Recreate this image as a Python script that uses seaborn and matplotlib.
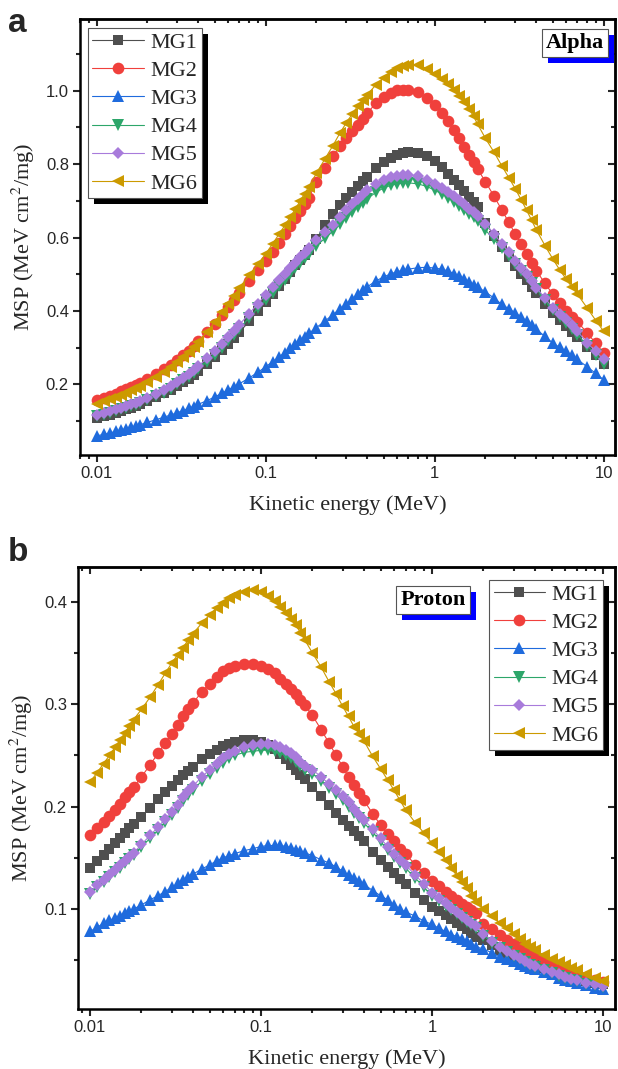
import numpy as np
import pandas as pd
import matplotlib
matplotlib.use("Agg")
import matplotlib.pyplot as plt
import matplotlib.ticker as mticker
from matplotlib.patches import Rectangle
import seaborn as sns

# kinetic energy grid (MeV)
energy = [0.010, 0.011, 0.012, 0.013, 0.014, 0.015, 0.016, 0.017, 0.018,
          0.020, 0.0225, 0.025, 0.0275, 0.030, 0.0325, 0.035, 0.0375, 0.040,
          0.045, 0.050, 0.055, 0.060, 0.065, 0.070, 0.080, 0.090,
          0.100, 0.110, 0.120, 0.130, 0.140, 0.150, 0.160, 0.170, 0.180,
          0.200, 0.225, 0.250, 0.275, 0.300, 0.325, 0.350, 0.375, 0.400,
          0.450, 0.500, 0.550, 0.600, 0.650, 0.700, 0.800, 0.900,
          1.000, 1.100, 1.200, 1.300, 1.400, 1.500, 1.600, 1.700, 1.800,
          2.000, 2.250, 2.500, 2.750, 3.000, 3.250, 3.500, 3.750, 4.000,
          4.500, 5.000, 5.500, 6.000, 6.500, 7.000, 8.000, 9.000, 10.00]

labels = ["MG1", "MG2", "MG3", "MG4", "MG5", "MG6"]

# alpha MSP (MeV cm2/mg)
alpha_mg1 = [0.108, 0.113, 0.118, 0.123, 0.128, 0.133, 0.137, 0.142, 0.146,
             0.155, 0.165, 0.176, 0.186, 0.196, 0.206, 0.216, 0.226, 0.236,
             0.256, 0.276, 0.294, 0.311, 0.327, 0.342, 0.372, 0.400,
             0.425, 0.447, 0.468, 0.488, 0.507, 0.524, 0.538, 0.553, 0.567,
             0.597, 0.633, 0.665, 0.688, 0.707, 0.724, 0.740, 0.753, 0.765,
             0.788, 0.806, 0.817, 0.825, 0.830, 0.832, 0.830, 0.821,
             0.808, 0.791, 0.774, 0.758, 0.742, 0.726, 0.710, 0.696, 0.683,
             0.640, 0.605, 0.573, 0.546, 0.522, 0.502, 0.484, 0.466, 0.449,
             0.420, 0.395, 0.376, 0.359, 0.344, 0.330, 0.302, 0.279, 0.257]
alpha_mg2 = [0.157, 0.163, 0.169, 0.175, 0.181, 0.187, 0.193, 0.199, 0.204,
             0.215, 0.228, 0.241, 0.254, 0.266, 0.279, 0.292, 0.305, 0.318,
             0.342, 0.366, 0.389, 0.410, 0.430, 0.449, 0.482, 0.511,
             0.537, 0.562, 0.586, 0.609, 0.631, 0.652, 0.672, 0.691, 0.709,
             0.750, 0.789, 0.822, 0.848, 0.870, 0.890, 0.907, 0.924, 0.939,
             0.966, 0.983, 0.994, 1.001, 1.003, 1.003, 0.995, 0.980,
             0.962, 0.940, 0.917, 0.893, 0.870, 0.847, 0.825, 0.805, 0.786,
             0.752, 0.712, 0.675, 0.641, 0.610, 0.582, 0.556, 0.532, 0.510,
             0.475, 0.446, 0.421, 0.400, 0.385, 0.371, 0.340, 0.312, 0.286]
alpha_mg3 = [0.060, 0.064, 0.068, 0.072, 0.076, 0.080, 0.083, 0.087, 0.090,
             0.097, 0.104, 0.111, 0.117, 0.123, 0.129, 0.135, 0.140, 0.146,
             0.156, 0.166, 0.176, 0.185, 0.194, 0.202, 0.218, 0.233,
             0.248, 0.262, 0.275, 0.287, 0.299, 0.310, 0.320, 0.330, 0.339,
             0.355, 0.373, 0.390, 0.406, 0.420, 0.433, 0.445, 0.456, 0.466,
             0.482, 0.493, 0.501, 0.507, 0.511, 0.514, 0.518, 0.519,
             0.517, 0.514, 0.509, 0.502, 0.494, 0.486, 0.478, 0.471, 0.465,
             0.452, 0.435, 0.418, 0.406, 0.395, 0.384, 0.373, 0.361, 0.350,
             0.331, 0.313, 0.301, 0.290, 0.279, 0.268, 0.248, 0.230, 0.213]
alpha_mg4 = [0.113, 0.118, 0.123, 0.127, 0.132, 0.136, 0.141, 0.145, 0.149,
             0.158, 0.168, 0.178, 0.189, 0.200, 0.211, 0.221, 0.232, 0.242,
             0.262, 0.281, 0.300, 0.318, 0.335, 0.352, 0.382, 0.408,
             0.431, 0.450, 0.468, 0.485, 0.501, 0.516, 0.530, 0.543, 0.555,
             0.578, 0.598, 0.617, 0.636, 0.653, 0.669, 0.683, 0.695, 0.706,
             0.723, 0.735, 0.742, 0.746, 0.748, 0.749, 0.746, 0.739,
             0.729, 0.719, 0.709, 0.698, 0.687, 0.676, 0.665, 0.655, 0.645,
             0.620, 0.595, 0.572, 0.550, 0.529, 0.510, 0.493, 0.476, 0.460,
             0.430, 0.402, 0.384, 0.367, 0.351, 0.336, 0.306, 0.280, 0.255]
alpha_mg5 = [0.117, 0.122, 0.127, 0.132, 0.137, 0.141, 0.146, 0.150, 0.154,
             0.163, 0.174, 0.185, 0.196, 0.207, 0.218, 0.229, 0.240, 0.250,
             0.271, 0.291, 0.310, 0.328, 0.346, 0.363, 0.393, 0.420,
             0.444, 0.465, 0.484, 0.501, 0.517, 0.532, 0.546, 0.559, 0.571,
             0.592, 0.614, 0.635, 0.655, 0.674, 0.691, 0.706, 0.718, 0.729,
             0.747, 0.758, 0.764, 0.767, 0.769, 0.770, 0.767, 0.758,
             0.747, 0.736, 0.724, 0.712, 0.701, 0.690, 0.679, 0.669, 0.660,
             0.637, 0.610, 0.583, 0.560, 0.537, 0.518, 0.500, 0.482, 0.464,
             0.435, 0.409, 0.392, 0.377, 0.361, 0.345, 0.313, 0.290, 0.268]
alpha_mg6 = [0.148, 0.154, 0.160, 0.166, 0.172, 0.178, 0.184, 0.190, 0.196,
             0.207, 0.221, 0.234, 0.247, 0.260, 0.274, 0.288, 0.302, 0.316,
             0.343, 0.370, 0.396, 0.420, 0.442, 0.463, 0.498, 0.527,
             0.555, 0.583, 0.609, 0.633, 0.656, 0.678, 0.699, 0.719, 0.738,
             0.775, 0.815, 0.850, 0.884, 0.912, 0.936, 0.957, 0.974, 0.989,
             1.016, 1.035, 1.050, 1.061, 1.068, 1.071, 1.070, 1.060,
             1.046, 1.032, 1.017, 1.001, 0.985, 0.968, 0.951, 0.930, 0.908,
             0.870, 0.832, 0.795, 0.763, 0.733, 0.703, 0.675, 0.647, 0.621,
             0.578, 0.542, 0.512, 0.487, 0.465, 0.446, 0.408, 0.374, 0.345]

# proton MSP (MeV cm2/mg)
proton_mg1 = [0.140, 0.147, 0.153, 0.159, 0.164, 0.169, 0.174, 0.179, 0.183,
              0.190, 0.199, 0.207, 0.214, 0.220, 0.226, 0.231, 0.235, 0.239,
              0.246, 0.251, 0.255, 0.259, 0.261, 0.263, 0.265, 0.265,
              0.263, 0.260, 0.256, 0.251, 0.246, 0.241, 0.236, 0.231, 0.227,
              0.219, 0.210, 0.202, 0.194, 0.187, 0.181, 0.176, 0.171, 0.166,
              0.156, 0.148, 0.141, 0.135, 0.129, 0.124, 0.116, 0.109,
              0.102, 0.098, 0.094, 0.090, 0.086, 0.083, 0.080, 0.077, 0.073,
              0.070, 0.065, 0.060, 0.056, 0.053, 0.051, 0.0485, 0.047, 0.045,
              0.042, 0.039, 0.037, 0.035, 0.0335, 0.032, 0.030, 0.028, 0.027]
proton_mg2 = [0.172, 0.179, 0.185, 0.191, 0.197, 0.203, 0.209, 0.214, 0.219,
              0.229, 0.241, 0.252, 0.262, 0.271, 0.280, 0.288, 0.295, 0.301,
              0.312, 0.320, 0.327, 0.332, 0.335, 0.337, 0.339, 0.339,
              0.337, 0.334, 0.330, 0.325, 0.320, 0.315, 0.310, 0.304, 0.299,
              0.289, 0.275, 0.262, 0.250, 0.239, 0.229, 0.221, 0.213, 0.206,
              0.193, 0.182, 0.173, 0.166, 0.159, 0.154, 0.143, 0.135,
              0.127, 0.122, 0.117, 0.113, 0.109, 0.105, 0.102, 0.099, 0.096,
              0.085, 0.080, 0.075, 0.070, 0.066, 0.063, 0.060, 0.057, 0.055,
              0.051, 0.047, 0.044, 0.041, 0.039, 0.037, 0.034, 0.031, 0.029]
proton_mg3 = [0.078, 0.082, 0.086, 0.089, 0.091, 0.093, 0.096, 0.098, 0.100,
              0.104, 0.109, 0.113, 0.117, 0.121, 0.125, 0.128, 0.131, 0.134,
              0.139, 0.143, 0.147, 0.150, 0.152, 0.154, 0.157, 0.159,
              0.161, 0.162, 0.162, 0.162, 0.161, 0.160, 0.158, 0.157, 0.155,
              0.152, 0.148, 0.145, 0.141, 0.137, 0.133, 0.130, 0.127, 0.124,
              0.118, 0.113, 0.109, 0.104, 0.100, 0.097, 0.093, 0.088,
              0.085, 0.081, 0.078, 0.075, 0.073, 0.071, 0.069, 0.066, 0.063,
              0.061, 0.057, 0.053, 0.051, 0.049, 0.046, 0.044, 0.042, 0.041,
              0.038, 0.036, 0.033, 0.031, 0.030, 0.028, 0.026, 0.023, 0.022]
proton_mg4 = [0.115, 0.121, 0.126, 0.131, 0.136, 0.140, 0.145, 0.149, 0.153,
              0.161, 0.169, 0.177, 0.185, 0.192, 0.199, 0.205, 0.211, 0.216,
              0.225, 0.232, 0.238, 0.243, 0.247, 0.250, 0.253, 0.254,
              0.255, 0.255, 0.254, 0.252, 0.250, 0.247, 0.244, 0.240, 0.236,
              0.232, 0.225, 0.218, 0.212, 0.206, 0.200, 0.194, 0.189, 0.184,
              0.175, 0.166, 0.158, 0.151, 0.145, 0.140, 0.130, 0.121,
              0.113, 0.108, 0.103, 0.099, 0.095, 0.091, 0.087, 0.084, 0.081,
              0.074, 0.067, 0.062, 0.058, 0.054, 0.051, 0.048, 0.045, 0.043,
              0.040, 0.037, 0.035, 0.033, 0.031, 0.030, 0.027, 0.026, 0.024]
proton_mg5 = [0.117, 0.123, 0.128, 0.133, 0.138, 0.143, 0.147, 0.151, 0.155,
              0.163, 0.172, 0.180, 0.188, 0.195, 0.202, 0.209, 0.215, 0.220,
              0.229, 0.236, 0.242, 0.247, 0.251, 0.254, 0.258, 0.260,
              0.261, 0.261, 0.260, 0.258, 0.255, 0.252, 0.248, 0.244, 0.240,
              0.236, 0.229, 0.222, 0.216, 0.210, 0.204, 0.198, 0.192, 0.187,
              0.178, 0.169, 0.161, 0.154, 0.148, 0.143, 0.133, 0.124,
              0.116, 0.111, 0.106, 0.101, 0.097, 0.093, 0.089, 0.086, 0.083,
              0.076, 0.069, 0.063, 0.059, 0.055, 0.052, 0.049, 0.046, 0.044,
              0.041, 0.038, 0.036, 0.034, 0.032, 0.031, 0.028, 0.027, 0.025]
proton_mg6 = [0.224, 0.233, 0.242, 0.250, 0.258, 0.265, 0.272, 0.279, 0.285,
              0.295, 0.307, 0.319, 0.330, 0.340, 0.348, 0.355, 0.363, 0.369,
              0.379, 0.387, 0.394, 0.399, 0.404, 0.407, 0.410, 0.412,
              0.410, 0.406, 0.401, 0.395, 0.389, 0.383, 0.377, 0.370, 0.363,
              0.350, 0.336, 0.322, 0.310, 0.298, 0.288, 0.278, 0.271, 0.264,
              0.249, 0.237, 0.226, 0.216, 0.206, 0.197, 0.184, 0.174,
              0.164, 0.156, 0.148, 0.140, 0.132, 0.126, 0.120, 0.113, 0.107,
              0.100, 0.093, 0.086, 0.081, 0.076, 0.071, 0.066, 0.063, 0.060,
              0.055, 0.051, 0.048, 0.045, 0.042, 0.040, 0.036, 0.033, 0.030]

alpha_data = [alpha_mg1, alpha_mg2, alpha_mg3, alpha_mg4, alpha_mg5, alpha_mg6]
proton_data = [proton_mg1, proton_mg2, proton_mg3, proton_mg4, proton_mg5, proton_mg6]

colors = ["#4f4f4f", "#f0403c", "#1f6bdd", "#2da66a", "#a87bdb", "#cc9a00"]
markers = ["s", "o", "^", "v", "D", "<"]
msizes = [7.4, 8.4, 9.0, 9.0, 6.4, 9.0]

sns.set_style("ticks")
plt.rcParams["font.family"] = ["Liberation Sans", "DejaVu Sans"]
plt.rcParams["mathtext.fontset"] = "stix"

SERIF = ["Liberation Serif", "DejaVu Serif"]
W, H = 618, 1069

fig = plt.figure(figsize=(W / 100, H / 100), dpi=100)
ax_a = fig.add_axes([80 / W, 1 - 455 / H, 535 / W, 436 / H])
ax_b = fig.add_axes([78 / W, 1 - 1009 / H, 537 / W, 442 / H])


def draw_panel(ax, data, xlim, ylim, ymajor, yminor):
    for vals, lab, c, m, ms in zip(data, labels, colors, markers, msizes):
        df = pd.DataFrame({"E": energy, "MSP": vals})
        sns.lineplot(data=df, x="E", y="MSP", ax=ax, color=c, marker=m,
                     markersize=ms, markeredgewidth=0, linewidth=0.8,
                     errorbar=None, label=lab)
    ax.set_xscale("log")
    ax.set_xlim(*xlim)
    ax.set_ylim(*ylim)
    ax.xaxis.set_major_locator(mticker.FixedLocator([0.01, 0.1, 1, 10]))
    ax.xaxis.set_major_formatter(mticker.FuncFormatter(lambda v, p: f"{v:g}"))
    ax.xaxis.set_minor_locator(mticker.LogLocator(base=10, subs=np.arange(2, 10)))
    ax.xaxis.set_minor_formatter(mticker.NullFormatter())
    ax.yaxis.set_major_locator(mticker.MultipleLocator(ymajor))
    ax.yaxis.set_minor_locator(mticker.MultipleLocator(yminor))
    ax.yaxis.set_major_formatter(mticker.FormatStrFormatter("%.1f"))
    ax.tick_params(which="both", direction="out", width=1.5, labelsize=12,
                   top=False, right=False, pad=3)
    ax.tick_params(which="major", length=5)
    ax.tick_params(which="minor", length=3)
    for sp in ax.spines.values():
        sp.set_linewidth(1.8)
        sp.set_color("black")
    # inward ticks on the opposite sides
    top = ax.secondary_xaxis("top")
    top.xaxis.set_major_locator(mticker.FixedLocator([0.01, 0.1, 1, 10]))
    top.xaxis.set_minor_locator(mticker.LogLocator(base=10, subs=np.arange(2, 10)))
    top.xaxis.set_minor_formatter(mticker.NullFormatter())
    top.tick_params(which="both", direction="in", width=1.5, labeltop=False)
    top.tick_params(which="major", length=5)
    top.tick_params(which="minor", length=3)
    top.spines["top"].set_linewidth(1.8)
    right = ax.secondary_yaxis("right")
    right.yaxis.set_major_locator(mticker.MultipleLocator(ymajor))
    right.yaxis.set_minor_locator(mticker.MultipleLocator(yminor))
    right.tick_params(which="both", direction="in", width=1.5, labelright=False)
    right.tick_params(which="major", length=5)
    right.tick_params(which="minor", length=3)
    right.spines["right"].set_linewidth(1.8)
    ax.set_xlabel("Kinetic energy (MeV)", fontsize=16, family=SERIF, labelpad=10)
    ax.set_ylabel("MSP (MeV cm$^2$/mg)", fontsize=16, family=SERIF, labelpad=6)


draw_panel(ax_a, alpha_data, (0.00798, 11.68), (0.008, 1.195), 0.2, 0.1)
draw_panel(ax_b, proton_data, (0.00851, 11.75), (0.0023, 0.434), 0.1, 0.05)

leg_kw = dict(prop={"family": SERIF, "size": 16}, frameon=True, fancybox=False,
              framealpha=1, edgecolor="#555555", borderpad=0.2,
              labelspacing=0.34, handlelength=2.3, handletextpad=0.3,
              borderaxespad=0)
leg_a = ax_a.legend(loc="upper left", bbox_to_anchor=(8 / 535, 1 - 9 / 436), **leg_kw)
leg_b = ax_b.legend(loc="upper right", bbox_to_anchor=(525 / 537, 1 - 13 / 442), **leg_kw)
for leg in (leg_a, leg_b):
    leg.get_frame().set_linewidth(0.8)

tags = []
for ax, x, y, s in ((ax_a, (575 - 80) / 535, 1 - (43 - 19) / 436, "Alpha"),
                    (ax_b, (433 - 78) / 537, 1 - (600 - 567) / 442, "Proton")):
    t = ax.text(x, y, s, transform=ax.transAxes, ha="center", va="center",
                fontsize=16, fontweight="bold", family=SERIF, color="black",
                zorder=7, bbox=dict(boxstyle="square,pad=0.18", fc="white",
                                    ec="#555555", lw=0.8))
    tags.append((ax, t))

fig.text(8 / W, 1 - 32 / H, "a", fontsize=24, fontweight="bold", va="baseline")
fig.text(8 / W, 1 - 561 / H, "b", fontsize=24, fontweight="bold", va="baseline")

# drop shadows: black behind the legends, blue behind the tags
fig.canvas.draw()
boxes = [(ax_a, leg_a.get_frame(), "black", 4.9), (ax_b, leg_b.get_frame(), "black", 4.9)]
boxes += [(ax, t.get_bbox_patch(), "blue", 6.9) for ax, t in tags]
for ax, patch, col, z in boxes:
    bb = patch.get_window_extent()
    inv = ax.transAxes.inverted()
    (x0, y0), (x1, y1) = inv.transform([[bb.x0 + 6, bb.y0 - 6], [bb.x1 + 6, bb.y1 - 6]])
    ax.add_patch(Rectangle((x0, y0), x1 - x0, y1 - y0, transform=ax.transAxes,
                           facecolor=col, edgecolor="none", zorder=z,
                           clip_on=False))

fig.savefig("out.png", dpi=100)
